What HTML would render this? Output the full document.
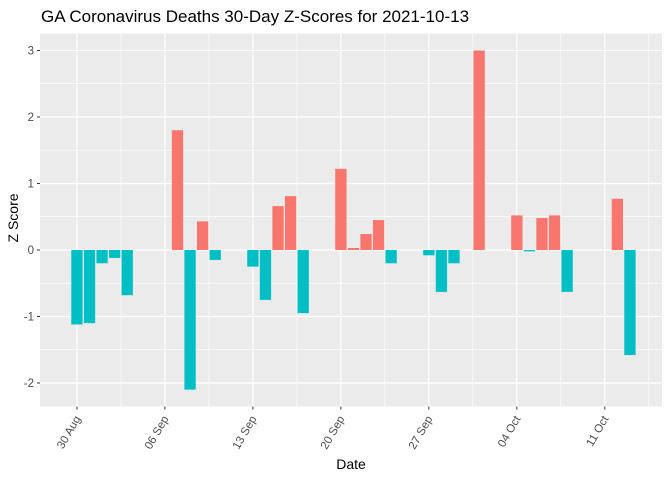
<!DOCTYPE html>
<html><head><meta charset="utf-8"><style>
body{margin:0;background:#fff;}
svg text{font-family:"Liberation Sans",Arial,sans-serif;}
</style></head><body>
<svg id="chart" width="672" height="480" xmlns="http://www.w3.org/2000/svg">
<rect width="672" height="480" fill="#fff"/>
<text x="41" y="22" font-size="17" fill="#000">GA Coronavirus Deaths 30-Day Z-Scores for 2021-10-13</text>
<g id="plot"></g>
<text x="351" y="469" font-size="14" text-anchor="middle">Date</text>
<text transform="translate(18,218) rotate(-90)" font-size="14" text-anchor="middle">Z Score</text>
</svg>
<script>
// day offsets from 30 Aug 2021
const dayOffsets=[0,1,2,3,4, 8,9,10,11, 14,15,16,17,18, 21,22,23,24,25, 28,29,30,32, 35,36,37,38,39, 43,44];
const zScores=[-1.12,-1.1,-0.2,-0.12,-0.68, 1.8,-2.1,0.43,-0.15, -0.25,-0.75,0.66,0.81,-0.95, 1.22,0.03,0.24,0.45,-0.2, -0.08,-0.63,-0.2,3.0, 0.52,-0.02,0.48,0.52,-0.63, 0.77,-1.58];
const xTickDays=[0,7,14,21,28,35,42];
const xTickLabels=["30 Aug","06 Sep","13 Sep","20 Sep","27 Sep","04 Oct","11 Oct"];
const yTicks=[-2,-1,0,1,2,3];

const L=40,R=662,T=33.5,B=406.6;
const xMin=-2.94,xMax=46.55,yMin=-2.355,yMax=3.255;
const xs=d=>L+(d-xMin)/(xMax-xMin)*(R-L);
const ys=v=>B-(v-yMin)/(yMax-yMin)*(B-T);
const NS="http://www.w3.org/2000/svg";
const g=document.getElementById('plot');
function mk(tag,attrs){const e=document.createElementNS(NS,tag);for(const k in attrs)e.setAttribute(k,attrs[k]);g.appendChild(e);return e;}
let e=mk('rect',{x:L,y:T,width:R-L,height:B-T,fill:'#ebebeb'});


for(let i=0;i<yTicks.length-1;i++){const v=(yTicks[i]+yTicks[i+1])/2;
 e=mk('line',{x1:L,x2:R,y1:ys(v),y2:ys(v),stroke:'#fff','stroke-width':0.6});
 
 }
for(let i=-1;i<xTickDays.length;i++){const d=i<0?xTickDays[0]-3.5:xTickDays[i]+3.5;
 e=mk('line',{x1:xs(d),x2:xs(d),y1:T,y2:B,stroke:'#fff','stroke-width':0.6});
 
 }
yTicks.forEach(v=>{
 e=mk('line',{x1:L,x2:R,y1:ys(v),y2:ys(v),stroke:'#fff','stroke-width':1.2});
 
 
 e=mk('line',{x1:L-3,x2:L,y1:ys(v),y2:ys(v),stroke:'#333','stroke-width':1});
 
 
 e=mk('text',{x:L-6,y:ys(v)+4,'font-size':11.5,fill:'#4d4d4d','text-anchor':'end'});
 e.textContent=v;
 
 
});
xTickDays.forEach((d,i)=>{
 e=mk('line',{x1:xs(d),x2:xs(d),y1:T,y2:B,stroke:'#fff','stroke-width':1.2});
 
 
 e=mk('line',{x1:xs(d),x2:xs(d),y1:B,y2:B+3,stroke:'#333','stroke-width':1});
 
 
 e=mk('text',{transform:`translate(${xs(d)+4},${B+12}) rotate(-60)`,'font-size':11.5,fill:'#4d4d4d','text-anchor':'end'});
 e.textContent=xTickLabels[i];
 
 
});
const bw=(xs(0.9)-xs(0));
dayOffsets.forEach((d,i)=>{const v=zScores[i];
 const y0=ys(0),y1=ys(v);
 e=mk('rect',{x:xs(d)-bw/2,y:Math.min(y0,y1),width:bw,height:Math.max(Math.abs(y1-y0),0.8),fill:v>0?'#f8766d':'#00bfc4'});
 
 
});
</script>
</body></html>
